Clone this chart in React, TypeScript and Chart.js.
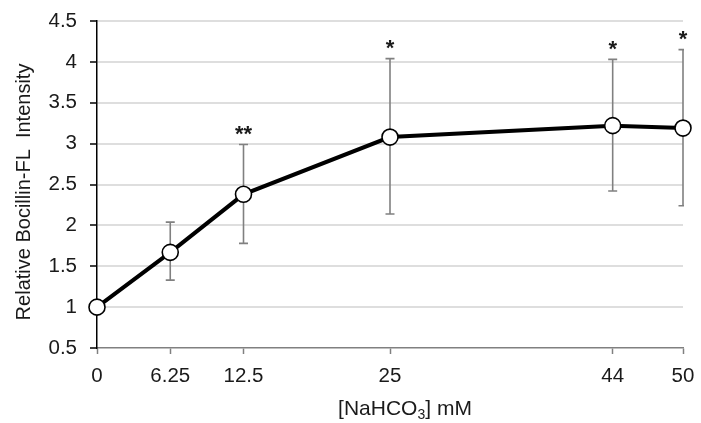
import React, { useEffect, useRef } from 'react';
import { Chart, registerables } from 'chart.js';
Chart.register(...registerables);

const concentrations = [0, 6.25, 12.5, 25, 44, 50];
const meanIntensity = [1.0, 1.67, 2.38, 3.08, 3.22, 3.19];
const errorUpper = [1.05, 2.04, 2.99, 4.04, 4.03, 4.15];
const errorLower = [0.95, 1.33, 1.78, 2.14, 2.42, 2.24];
const significance = ['', '', '**', '*', '*', '*'];
const xTickValues = [0, 6.25, 12.5, 25, 44, 50];
const yMin = 0.5;
const yMax = 4.5;
const yStep = 0.5;
const yTitle = 'Relative Bocillin-FL  Intensity';
const xTitleMain = '[NaHCO';
const xTitleSub = '3';
const xTitleEnd = '] mM';

const FONT = '"Liberation Sans", Arial, sans-serif';
const TEXT = '#1a1a1a';

const overlayPlugin = {
  id: 'overlay',
  beforeDatasetsDraw(chart: any) {
    const { ctx, chartArea } = chart;
    const xs = chart.scales.x;
    const ys = chart.scales.y;
    ctx.save();
    ctx.beginPath();
    ctx.rect(chartArea.left, chartArea.top - 2, chartArea.right - chartArea.left + 1, chartArea.bottom - chartArea.top + 2);
    ctx.clip();
    ctx.strokeStyle = '#808080';
    ctx.lineWidth = 1.6;
    for (let i = 0; i < concentrations.length; i++) {
      const x = xs.getPixelForValue(concentrations[i]);
      const yt = ys.getPixelForValue(errorUpper[i]);
      const yb = ys.getPixelForValue(errorLower[i]);
      ctx.beginPath();
      ctx.moveTo(x, yt);
      ctx.lineTo(x, yb);
      ctx.moveTo(x - 4.5, yt);
      ctx.lineTo(x + 4.5, yt);
      ctx.moveTo(x - 4.5, yb);
      ctx.lineTo(x + 4.5, yb);
      ctx.stroke();
    }
    ctx.restore();
  },
  afterDraw(chart: any) {
    const { ctx, chartArea } = chart;
    const xs = chart.scales.x;
    const ys = chart.scales.y;
    ctx.save();
    // significance marks
    ctx.fillStyle = TEXT;
    ctx.font = 'bold 22px ' + FONT;
    ctx.textAlign = 'center';
    ctx.textBaseline = 'alphabetic';
    for (let i = 0; i < concentrations.length; i++) {
      if (!significance[i]) continue;
      const x = xs.getPixelForValue(concentrations[i]);
      const yt = ys.getPixelForValue(errorUpper[i]);
      ctx.fillText(significance[i], x, yt - 3.5);
    }
    // y title
    ctx.font = '20px ' + FONT;
    ctx.save();
    ctx.translate(24, 192);
    ctx.rotate(-Math.PI / 2);
    ctx.textAlign = 'center';
    ctx.textBaseline = 'middle';
    ctx.fillText(yTitle, 0, 0);
    ctx.restore();
    // x title with subscript
    const mainFont = '21px ' + FONT;
    const subFont = '14px ' + FONT;
    ctx.font = mainFont;
    const w1 = ctx.measureText(xTitleMain).width;
    const w3 = ctx.measureText(xTitleEnd).width;
    ctx.font = subFont;
    const w2 = ctx.measureText(xTitleSub).width;
    const total = w1 + w2 + w3;
    const cx = (chartArea.left + chartArea.right) / 2 + 15;
    let x0 = cx - total / 2;
    const base = 415;
    ctx.textAlign = 'left';
    ctx.textBaseline = 'alphabetic';
    ctx.font = mainFont;
    ctx.fillText(xTitleMain, x0, base);
    x0 += w1;
    ctx.font = subFont;
    ctx.fillText(xTitleSub, x0, base + 4);
    x0 += w2;
    ctx.font = mainFont;
    ctx.fillText(xTitleEnd, x0, base);
    ctx.restore();
  },
};

export default function App() {
  const ref = useRef<HTMLCanvasElement | null>(null);
  useEffect(() => {
    document.body.style.margin = '0';
    const canvas = ref.current;
    if (!canvas) return;
    const chart = new Chart(canvas, {
      type: 'line',
      data: {
        datasets: [
          {
            data: concentrations.map((c, i) => ({ x: c, y: meanIntensity[i] })),
            borderColor: '#000',
            borderWidth: 4,
            pointRadius: 8,
            pointHoverRadius: 8,
            pointBackgroundColor: '#fff',
            pointBorderColor: '#000',
            pointBorderWidth: 1.6,
            fill: false,
            tension: 0,
            clip: false as any,
          },
        ],
      },
      options: {
        responsive: false,
        animation: false,
        layout: { padding: { top: 21, right: 18, left: 0, bottom: 0 } },
        plugins: {
          legend: { display: false },
          tooltip: { enabled: false },
          title: { display: false },
        },
        scales: {
          x: {
            type: 'linear',
            min: 0,
            max: 50,
            afterBuildTicks: (scale: any) => {
              scale.ticks = xTickValues.map((v) => ({ value: v }));
            },
            afterFit: (scale: any) => {
              scale.height = 75;
              scale.paddingLeft = 0;
              scale.paddingRight = 0;
            },
            grid: {
              drawOnChartArea: false,
              drawTicks: true,
              tickLength: 6,
              tickColor: '#808080',
              tickWidth: 1.5,
            },
            border: { color: '#808080', width: 1.5 },
            ticks: {
              autoSkip: false,
              maxRotation: 0,
              padding: 10,
              color: TEXT,
              font: { family: FONT, size: 20.5 },
              callback: (v: any) => String(v),
            },
          },
          y: {
            type: 'linear',
            min: yMin,
            max: yMax,
            afterFit: (scale: any) => {
              scale.width = 97;
              scale.paddingTop = 0;
              scale.paddingBottom = 0;
            },
            grid: {
              color: (c: any) => (c.tick && c.tick.value === yMin ? 'rgba(0,0,0,0)' : '#dedede'),
              lineWidth: 2,
              tickLength: 7,
              tickColor: '#000',
              tickWidth: 1.5,
            },
            border: { color: '#000', width: 1.5 },
            ticks: {
              stepSize: yStep,
              padding: 13,
              color: TEXT,
              font: { family: FONT, size: 20.5 },
              callback: (v: any) => String(Math.round(Number(v) * 100) / 100),
            },
          },
        },
      },
      plugins: [overlayPlugin],
    });
    return () => chart.destroy();
  }, []);
  return (
    <div style={{ position: 'fixed', left: 0, top: 0, width: 701, height: 423 }}>
      <canvas ref={ref} width={701} height={423} />
    </div>
  );
}
